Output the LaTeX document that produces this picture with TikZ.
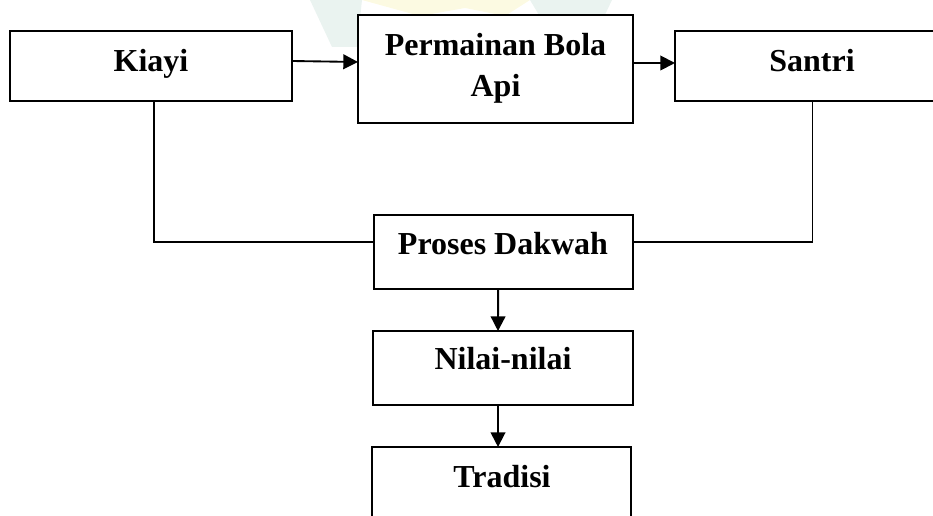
\documentclass[tikz,border=0pt]{standalone}
\usepackage{fontspec}
\setmainfont{Liberation Serif}
\usetikzlibrary{arrows.meta}
\definecolor{wmteal}{RGB}{234,243,240}
\definecolor{wmyellow}{RGB}{252,250,226}
\tikzset{
  box/.style={draw, line width=1.6pt, fill=white, inner sep=0pt, outer sep=0pt},
  lbl/.style={anchor=base, inner sep=0pt, font=\bfseries\fontsize{24}{30}\selectfont},
  ln/.style={line width=1.4pt},
  arr/.style={line width=1.4pt, -{Triangle[length=11pt,width=11pt]}}
}
\begin{document}
\begin{tikzpicture}[x=0.75pt,y=-0.75pt]
\useasboundingbox (0,0) rectangle (933,516);
\clip (0,0) rectangle (933,516);
% faint watermark
\fill[wmteal] (310,0) -- (362,0) -- (357,47) -- (332,47) -- cycle;
\fill[wmyellow] (362,0) -- (530,0) -- (505,16) -- (465,8) -- (420,16) -- cycle;
\fill[wmteal] (530,0) -- (612,0) -- (592,42) -- (555,42) -- cycle;
% boxes
\node[box, minimum width=211.5pt, minimum height=52.5pt] (kiayi) at (151,66) {};
\node[box, minimum width=206.25pt, minimum height=81pt] (perm) at (495.5,69) {};
\node[box, minimum width=206.25pt, minimum height=52.5pt] (santri) at (812.5,66) {};
\node[box, minimum width=194.25pt, minimum height=55.5pt] (proses) at (503.5,252) {};
\node[box, minimum width=195pt, minimum height=55.5pt] (nilai) at (503,368) {};
\node[box, minimum width=194.25pt, minimum height=75pt] (tradisi) at (501.5,497) {};
% labels
\node[lbl] (kiayiT) at (151,72) {Kiayi};
\node[lbl] (permT1) at (495.5,56) {Permainan Bola};
\node[lbl] (permT2) at (495.5,97) {Api};
\node[lbl] (santriT) at (812,72) {Santri};
\node[lbl] (prosesT) at (503,255) {Proses Dakwah};
\node[lbl] (nilaiT) at (503,370) {Nilai-nilai};
\node[lbl] (tradisiT) at (502,488) {Tradisi};
% connectors
\draw[arr] ([yshift=3.75pt]kiayi.east) -- ([yshift=5.25pt]perm.west);
\draw[arr] ([yshift=4.5pt]perm.east) -- ([yshift=2.25pt]santri.west);
\draw[ln] ([xshift=2.25pt]kiayi.south) |- ([yshift=7.5pt]proses.west);
\draw[ln] (santri.south) |- ([yshift=7.5pt]proses.east);
\draw[arr] ([xshift=-4pt]proses.south) -- ([xshift=-3.75pt]nilai.north);
\draw[arr] ([xshift=-3.75pt]nilai.south) -- ([xshift=-2.6pt]tradisi.north);
\end{tikzpicture}
\end{document}
